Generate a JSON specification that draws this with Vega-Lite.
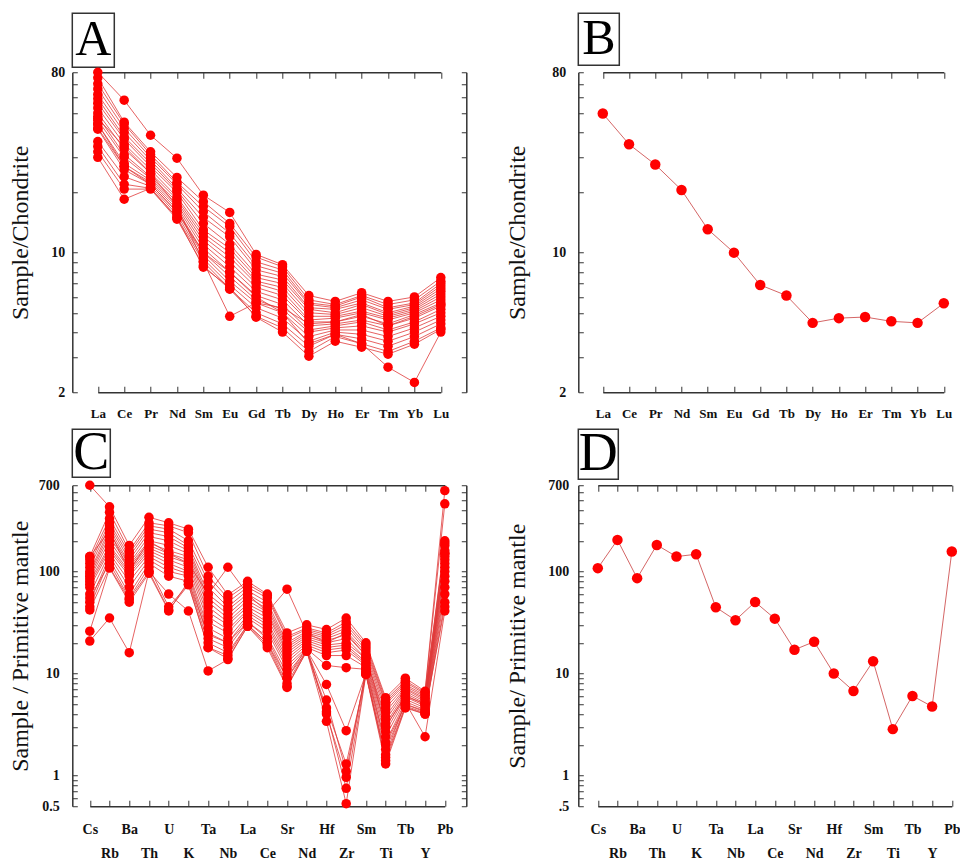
{
"$schema":"https://vega.github.io/schema/vega-lite/v6.json",
"background":"white",
"padding":{"left":8.3,"top":12.25,"right":0,"bottom":0},
"config":{"view":{"stroke":null},"axis":{"grid":false,"domainColor":"#333","domainWidth":1.5,"tickColor":"#333","tickWidth":1,"labelFont":"Liberation Serif","labelFontWeight":"bold","labelColor":"#111","titleFont":"Liberation Serif","titleFontWeight":"normal","titleColor":"#111","labelOverlap":false,"labelFlush":false}},
"datasets":{
"A":[
{"sample":"A1","element":"La","value":80},{"sample":"A1","element":"Ce","value":58},{"sample":"A1","element":"Pr","value":38.7},{"sample":"A1","element":"Nd","value":29.7},{"sample":"A1","element":"Sm","value":19.4},{"sample":"A1","element":"Eu","value":15.9},{"sample":"A1","element":"Gd","value":9.8},{"sample":"A1","element":"Tb","value":8.7},{"sample":"A1","element":"Dy","value":6.1},{"sample":"A1","element":"Ho","value":5.7},{"sample":"A1","element":"Er","value":6.3},{"sample":"A1","element":"Tm","value":5.7},{"sample":"A1","element":"Yb","value":6.0},{"sample":"A1","element":"Lu","value":7.5},
{"sample":"A2","element":"La","value":75},{"sample":"A2","element":"Ce","value":45},{"sample":"A2","element":"Pr","value":32},{"sample":"A2","element":"Nd","value":23.8},{"sample":"A2","element":"Sm","value":18},{"sample":"A2","element":"Eu","value":14},{"sample":"A2","element":"Gd","value":9.5},{"sample":"A2","element":"Tb","value":8.5},{"sample":"A2","element":"Dy","value":5.8},{"sample":"A2","element":"Ho","value":5.5},{"sample":"A2","element":"Er","value":6.1},{"sample":"A2","element":"Tm","value":5.5},{"sample":"A2","element":"Yb","value":5.8},{"sample":"A2","element":"Lu","value":7.2},
{"sample":"A3","element":"La","value":70},{"sample":"A3","element":"Ce","value":44},{"sample":"A3","element":"Pr","value":31},{"sample":"A3","element":"Nd","value":22.5},{"sample":"A3","element":"Sm","value":17},{"sample":"A3","element":"Eu","value":13.5},{"sample":"A3","element":"Gd","value":9.0},{"sample":"A3","element":"Tb","value":8.2},{"sample":"A3","element":"Dy","value":5.6},{"sample":"A3","element":"Ho","value":5.4},{"sample":"A3","element":"Er","value":6.0},{"sample":"A3","element":"Tm","value":5.3},{"sample":"A3","element":"Yb","value":5.6},{"sample":"A3","element":"Lu","value":7.0},
{"sample":"A4","element":"La","value":66},{"sample":"A4","element":"Ce","value":42},{"sample":"A4","element":"Pr","value":30},{"sample":"A4","element":"Nd","value":22},{"sample":"A4","element":"Sm","value":16},{"sample":"A4","element":"Eu","value":12.5},{"sample":"A4","element":"Gd","value":8.6},{"sample":"A4","element":"Tb","value":7.9},{"sample":"A4","element":"Dy","value":5.5},{"sample":"A4","element":"Ho","value":5.3},{"sample":"A4","element":"Er","value":5.8},{"sample":"A4","element":"Tm","value":5.2},{"sample":"A4","element":"Yb","value":5.5},{"sample":"A4","element":"Lu","value":6.8},
{"sample":"A5","element":"La","value":62},{"sample":"A5","element":"Ce","value":40},{"sample":"A5","element":"Pr","value":29},{"sample":"A5","element":"Nd","value":21},{"sample":"A5","element":"Sm","value":15},{"sample":"A5","element":"Eu","value":12},{"sample":"A5","element":"Gd","value":8.2},{"sample":"A5","element":"Tb","value":7.6},{"sample":"A5","element":"Dy","value":5.3},{"sample":"A5","element":"Ho","value":5.2},{"sample":"A5","element":"Er","value":5.6},{"sample":"A5","element":"Tm","value":5.0},{"sample":"A5","element":"Yb","value":5.4},{"sample":"A5","element":"Lu","value":6.6},
{"sample":"A6","element":"La","value":59},{"sample":"A6","element":"Ce","value":38},{"sample":"A6","element":"Pr","value":28},{"sample":"A6","element":"Nd","value":20.5},{"sample":"A6","element":"Sm","value":14},{"sample":"A6","element":"Eu","value":11},{"sample":"A6","element":"Gd","value":7.8},{"sample":"A6","element":"Tb","value":7.3},{"sample":"A6","element":"Dy","value":5.2},{"sample":"A6","element":"Ho","value":5.0},{"sample":"A6","element":"Er","value":5.5},{"sample":"A6","element":"Tm","value":4.9},{"sample":"A6","element":"Yb","value":5.3},{"sample":"A6","element":"Lu","value":6.4},
{"sample":"A7","element":"La","value":56},{"sample":"A7","element":"Ce","value":37},{"sample":"A7","element":"Pr","value":27},{"sample":"A7","element":"Nd","value":20},{"sample":"A7","element":"Sm","value":13},{"sample":"A7","element":"Eu","value":10.5},{"sample":"A7","element":"Gd","value":7.5},{"sample":"A7","element":"Tb","value":7.0},{"sample":"A7","element":"Dy","value":5.0},{"sample":"A7","element":"Ho","value":4.9},{"sample":"A7","element":"Er","value":5.3},{"sample":"A7","element":"Tm","value":4.8},{"sample":"A7","element":"Yb","value":5.2},{"sample":"A7","element":"Lu","value":6.2},
{"sample":"A8","element":"La","value":53},{"sample":"A8","element":"Ce","value":35},{"sample":"A8","element":"Pr","value":26},{"sample":"A8","element":"Nd","value":19},{"sample":"A8","element":"Sm","value":12.5},{"sample":"A8","element":"Eu","value":10},{"sample":"A8","element":"Gd","value":7.2},{"sample":"A8","element":"Tb","value":6.7},{"sample":"A8","element":"Dy","value":4.8},{"sample":"A8","element":"Ho","value":4.8},{"sample":"A8","element":"Er","value":5.1},{"sample":"A8","element":"Tm","value":4.7},{"sample":"A8","element":"Yb","value":5.1},{"sample":"A8","element":"Lu","value":6.0},
{"sample":"A9","element":"La","value":50},{"sample":"A9","element":"Ce","value":33},{"sample":"A9","element":"Pr","value":25},{"sample":"A9","element":"Nd","value":18.5},{"sample":"A9","element":"Sm","value":12},{"sample":"A9","element":"Eu","value":9.5},{"sample":"A9","element":"Gd","value":7.0},{"sample":"A9","element":"Tb","value":6.4},{"sample":"A9","element":"Dy","value":4.6},{"sample":"A9","element":"Ho","value":4.7},{"sample":"A9","element":"Er","value":5.0},{"sample":"A9","element":"Tm","value":4.6},{"sample":"A9","element":"Yb","value":5.0},{"sample":"A9","element":"Lu","value":5.8},
{"sample":"A10","element":"La","value":48},{"sample":"A10","element":"Ce","value":31},{"sample":"A10","element":"Pr","value":24},{"sample":"A10","element":"Nd","value":18},{"sample":"A10","element":"Sm","value":11.5},{"sample":"A10","element":"Eu","value":9},{"sample":"A10","element":"Gd","value":6.7},{"sample":"A10","element":"Tb","value":6.1},{"sample":"A10","element":"Dy","value":4.5},{"sample":"A10","element":"Ho","value":4.5},{"sample":"A10","element":"Er","value":4.8},{"sample":"A10","element":"Tm","value":4.4},{"sample":"A10","element":"Yb","value":4.9},{"sample":"A10","element":"Lu","value":5.6},
{"sample":"A11","element":"La","value":46},{"sample":"A11","element":"Ce","value":30},{"sample":"A11","element":"Pr","value":23.5},{"sample":"A11","element":"Nd","value":17.5},{"sample":"A11","element":"Sm","value":11},{"sample":"A11","element":"Eu","value":8.5},{"sample":"A11","element":"Gd","value":6.4},{"sample":"A11","element":"Tb","value":5.8},{"sample":"A11","element":"Dy","value":4.3},{"sample":"A11","element":"Ho","value":4.4},{"sample":"A11","element":"Er","value":4.6},{"sample":"A11","element":"Tm","value":4.3},{"sample":"A11","element":"Yb","value":4.7},{"sample":"A11","element":"Lu","value":5.4},
{"sample":"A12","element":"La","value":44},{"sample":"A12","element":"Ce","value":28},{"sample":"A12","element":"Pr","value":23},{"sample":"A12","element":"Nd","value":17},{"sample":"A12","element":"Sm","value":10.5},{"sample":"A12","element":"Eu","value":8},{"sample":"A12","element":"Gd","value":6.1},{"sample":"A12","element":"Tb","value":5.5},{"sample":"A12","element":"Dy","value":4.1},{"sample":"A12","element":"Ho","value":4.3},{"sample":"A12","element":"Er","value":4.5},{"sample":"A12","element":"Tm","value":4.1},{"sample":"A12","element":"Yb","value":4.5},{"sample":"A12","element":"Lu","value":5.2},
{"sample":"A13","element":"La","value":42},{"sample":"A13","element":"Ce","value":27},{"sample":"A13","element":"Pr","value":22.5},{"sample":"A13","element":"Nd","value":16.5},{"sample":"A13","element":"Sm","value":10},{"sample":"A13","element":"Eu","value":7.6},{"sample":"A13","element":"Gd","value":5.8},{"sample":"A13","element":"Tb","value":5.2},{"sample":"A13","element":"Dy","value":4.0},{"sample":"A13","element":"Ho","value":4.2},{"sample":"A13","element":"Er","value":4.3},{"sample":"A13","element":"Tm","value":4.0},{"sample":"A13","element":"Yb","value":4.4},{"sample":"A13","element":"Lu","value":5.0},
{"sample":"A14","element":"La","value":41.5},{"sample":"A14","element":"Ce","value":26},{"sample":"A14","element":"Pr","value":22},{"sample":"A14","element":"Nd","value":16},{"sample":"A14","element":"Sm","value":9.7},{"sample":"A14","element":"Eu","value":7.2},{"sample":"A14","element":"Gd","value":5.6},{"sample":"A14","element":"Tb","value":5.0},{"sample":"A14","element":"Dy","value":3.8},{"sample":"A14","element":"Ho","value":4.1},{"sample":"A14","element":"Er","value":4.1},{"sample":"A14","element":"Tm","value":3.8},{"sample":"A14","element":"Yb","value":4.2},{"sample":"A14","element":"Lu","value":4.8},
{"sample":"A15","element":"La","value":36},{"sample":"A15","element":"Ce","value":24},{"sample":"A15","element":"Pr","value":21.5},{"sample":"A15","element":"Nd","value":15.5},{"sample":"A15","element":"Sm","value":9.3},{"sample":"A15","element":"Eu","value":6.9},{"sample":"A15","element":"Gd","value":5.3},{"sample":"A15","element":"Tb","value":4.7},{"sample":"A15","element":"Dy","value":3.6},{"sample":"A15","element":"Ho","value":4.0},{"sample":"A15","element":"Er","value":3.9},{"sample":"A15","element":"Tm","value":3.6},{"sample":"A15","element":"Yb","value":4.0},{"sample":"A15","element":"Lu","value":4.6},
{"sample":"A16","element":"La","value":34},{"sample":"A16","element":"Ce","value":22},{"sample":"A16","element":"Pr","value":21},{"sample":"A16","element":"Nd","value":15},{"sample":"A16","element":"Sm","value":9},{"sample":"A16","element":"Eu","value":6.6},{"sample":"A16","element":"Gd","value":5.0},{"sample":"A16","element":"Tb","value":4.4},{"sample":"A16","element":"Dy","value":3.4},{"sample":"A16","element":"Ho","value":3.9},{"sample":"A16","element":"Er","value":3.7},{"sample":"A16","element":"Tm","value":3.4},{"sample":"A16","element":"Yb","value":3.8},{"sample":"A16","element":"Lu","value":4.4},
{"sample":"A17","element":"La","value":32},{"sample":"A17","element":"Ce","value":20.8},{"sample":"A17","element":"Pr","value":20.8},{"sample":"A17","element":"Nd","value":14.7},{"sample":"A17","element":"Sm","value":8.6},{"sample":"A17","element":"Eu","value":6.56},{"sample":"A17","element":"Gd","value":4.8},{"sample":"A17","element":"Tb","value":4.2},{"sample":"A17","element":"Dy","value":3.2},{"sample":"A17","element":"Ho","value":3.8},{"sample":"A17","element":"Er","value":3.5},{"sample":"A17","element":"Tm","value":3.2},{"sample":"A17","element":"Yb","value":3.6},{"sample":"A17","element":"Lu","value":4.2},
{"sample":"A18","element":"La","value":30},{"sample":"A18","element":"Ce","value":18.5},{"sample":"A18","element":"Pr","value":21},{"sample":"A18","element":"Nd","value":15},{"sample":"A18","element":"Sm","value":8.45},{"sample":"A18","element":"Eu","value":6.7},{"sample":"A18","element":"Gd","value":4.75},{"sample":"A18","element":"Tb","value":4.0},{"sample":"A18","element":"Dy","value":3.03},{"sample":"A18","element":"Ho","value":3.6},{"sample":"A18","element":"Er","value":3.36},{"sample":"A18","element":"Tm","value":3.1},{"sample":"A18","element":"Yb","value":3.48},{"sample":"A18","element":"Lu","value":4.13},
{"sample":"A19","element":"La","value":47},{"sample":"A19","element":"Ce","value":34},{"sample":"A19","element":"Pr","value":25},{"sample":"A19","element":"Nd","value":17},{"sample":"A19","element":"Sm","value":9.0},{"sample":"A19","element":"Eu","value":4.8},{"sample":"A19","element":"Gd","value":5.6},{"sample":"A19","element":"Tb","value":5.3},{"sample":"A19","element":"Dy","value":4.4},{"sample":"A19","element":"Ho","value":4.5},{"sample":"A19","element":"Er","value":4.9},{"sample":"A19","element":"Tm","value":4.3},{"sample":"A19","element":"Yb","value":4.8},{"sample":"A19","element":"Lu","value":5.5},
{"sample":"A20","element":"La","value":44},{"sample":"A20","element":"Ce","value":27},{"sample":"A20","element":"Pr","value":22},{"sample":"A20","element":"Nd","value":16},{"sample":"A20","element":"Sm","value":10},{"sample":"A20","element":"Eu","value":8},{"sample":"A20","element":"Gd","value":6},{"sample":"A20","element":"Tb","value":5},{"sample":"A20","element":"Dy","value":3.5},{"sample":"A20","element":"Ho","value":3.9},{"sample":"A20","element":"Er","value":3.5},{"sample":"A20","element":"Tm","value":2.67},{"sample":"A20","element":"Yb","value":2.24},{"sample":"A20","element":"Lu","value":4.0}
],
"B":[
{"sample":"B1","element":"La","value":49.7},{"sample":"B1","element":"Ce","value":34.9},{"sample":"B1","element":"Pr","value":27.6},{"sample":"B1","element":"Nd","value":20.6},{"sample":"B1","element":"Sm","value":13.1},{"sample":"B1","element":"Eu","value":10.0},{"sample":"B1","element":"Gd","value":6.89},{"sample":"B1","element":"Tb","value":6.1},{"sample":"B1","element":"Dy","value":4.45},{"sample":"B1","element":"Ho","value":4.7},{"sample":"B1","element":"Er","value":4.76},{"sample":"B1","element":"Tm","value":4.53},{"sample":"B1","element":"Yb","value":4.45},{"sample":"B1","element":"Lu","value":5.58}
],
"C":[
{"sample":"C1","element":"Cs","value":700},{"sample":"C1","element":"Rb","value":430},{"sample":"C1","element":"Ba","value":180},{"sample":"C1","element":"Th","value":340},{"sample":"C1","element":"U","value":300},{"sample":"C1","element":"K","value":260},{"sample":"C1","element":"Ta","value":110},{"sample":"C1","element":"Nb","value":59},{"sample":"C1","element":"La","value":80},{"sample":"C1","element":"Ce","value":60},{"sample":"C1","element":"Sr","value":25},{"sample":"C1","element":"Nd","value":30},{"sample":"C1","element":"Hf","value":27},{"sample":"C1","element":"Zr","value":35},{"sample":"C1","element":"Sm","value":20},{"sample":"C1","element":"Ti","value":5.8},{"sample":"C1","element":"Tb","value":9},{"sample":"C1","element":"Y","value":6.7},{"sample":"C1","element":"Pb","value":620},
{"sample":"C2","element":"Cs","value":140},{"sample":"C2","element":"Rb","value":380},{"sample":"C2","element":"Ba","value":160},{"sample":"C2","element":"Th","value":300},{"sample":"C2","element":"U","value":280},{"sample":"C2","element":"K","value":240},{"sample":"C2","element":"Ta","value":90},{"sample":"C2","element":"Nb","value":55},{"sample":"C2","element":"La","value":75},{"sample":"C2","element":"Ce","value":58},{"sample":"C2","element":"Sr","value":23},{"sample":"C2","element":"Nd","value":28},{"sample":"C2","element":"Hf","value":25},{"sample":"C2","element":"Zr","value":32},{"sample":"C2","element":"Sm","value":19},{"sample":"C2","element":"Ti","value":5.5},{"sample":"C2","element":"Tb","value":8.5},{"sample":"C2","element":"Y","value":6.5},{"sample":"C2","element":"Pb","value":460},
{"sample":"C3","element":"Cs","value":130},{"sample":"C3","element":"Rb","value":330},{"sample":"C3","element":"Ba","value":150},{"sample":"C3","element":"Th","value":280},{"sample":"C3","element":"U","value":260},{"sample":"C3","element":"K","value":200},{"sample":"C3","element":"Ta","value":80},{"sample":"C3","element":"Nb","value":50},{"sample":"C3","element":"La","value":70},{"sample":"C3","element":"Ce","value":55},{"sample":"C3","element":"Sr","value":22},{"sample":"C3","element":"Nd","value":27},{"sample":"C3","element":"Hf","value":24},{"sample":"C3","element":"Zr","value":30},{"sample":"C3","element":"Sm","value":18},{"sample":"C3","element":"Ti","value":5.2},{"sample":"C3","element":"Tb","value":8.2},{"sample":"C3","element":"Y","value":6.3},{"sample":"C3","element":"Pb","value":200},
{"sample":"C4","element":"Cs","value":120},{"sample":"C4","element":"Rb","value":300},{"sample":"C4","element":"Ba","value":140},{"sample":"C4","element":"Th","value":260},{"sample":"C4","element":"U","value":240},{"sample":"C4","element":"K","value":180},{"sample":"C4","element":"Ta","value":70},{"sample":"C4","element":"Nb","value":45},{"sample":"C4","element":"La","value":65},{"sample":"C4","element":"Ce","value":50},{"sample":"C4","element":"Sr","value":20},{"sample":"C4","element":"Nd","value":26},{"sample":"C4","element":"Hf","value":23},{"sample":"C4","element":"Zr","value":28},{"sample":"C4","element":"Sm","value":17},{"sample":"C4","element":"Ti","value":5.0},{"sample":"C4","element":"Tb","value":7.8},{"sample":"C4","element":"Y","value":6.1},{"sample":"C4","element":"Pb","value":190},
{"sample":"C5","element":"Cs","value":110},{"sample":"C5","element":"Rb","value":280},{"sample":"C5","element":"Ba","value":130},{"sample":"C5","element":"Th","value":240},{"sample":"C5","element":"U","value":220},{"sample":"C5","element":"K","value":170},{"sample":"C5","element":"Ta","value":60},{"sample":"C5","element":"Nb","value":42},{"sample":"C5","element":"La","value":60},{"sample":"C5","element":"Ce","value":46},{"sample":"C5","element":"Sr","value":19},{"sample":"C5","element":"Nd","value":25},{"sample":"C5","element":"Hf","value":22},{"sample":"C5","element":"Zr","value":26},{"sample":"C5","element":"Sm","value":16},{"sample":"C5","element":"Ti","value":4.6},{"sample":"C5","element":"Tb","value":7.5},{"sample":"C5","element":"Y","value":5.9},{"sample":"C5","element":"Pb","value":180},
{"sample":"C6","element":"Cs","value":100},{"sample":"C6","element":"Rb","value":260},{"sample":"C6","element":"Ba","value":120},{"sample":"C6","element":"Th","value":220},{"sample":"C6","element":"U","value":200},{"sample":"C6","element":"K","value":160},{"sample":"C6","element":"Ta","value":55},{"sample":"C6","element":"Nb","value":38},{"sample":"C6","element":"La","value":56},{"sample":"C6","element":"Ce","value":43},{"sample":"C6","element":"Sr","value":18},{"sample":"C6","element":"Nd","value":24},{"sample":"C6","element":"Hf","value":21},{"sample":"C6","element":"Zr","value":24},{"sample":"C6","element":"Sm","value":15},{"sample":"C6","element":"Ti","value":4.2},{"sample":"C6","element":"Tb","value":7.2},{"sample":"C6","element":"Y","value":5.7},{"sample":"C6","element":"Pb","value":160},
{"sample":"C7","element":"Cs","value":95},{"sample":"C7","element":"Rb","value":240},{"sample":"C7","element":"Ba","value":115},{"sample":"C7","element":"Th","value":200},{"sample":"C7","element":"U","value":180},{"sample":"C7","element":"K","value":150},{"sample":"C7","element":"Ta","value":50},{"sample":"C7","element":"Nb","value":35},{"sample":"C7","element":"La","value":52},{"sample":"C7","element":"Ce","value":40},{"sample":"C7","element":"Sr","value":17},{"sample":"C7","element":"Nd","value":23},{"sample":"C7","element":"Hf","value":20},{"sample":"C7","element":"Zr","value":22},{"sample":"C7","element":"Sm","value":14},{"sample":"C7","element":"Ti","value":3.8},{"sample":"C7","element":"Tb","value":7.0},{"sample":"C7","element":"Y","value":5.5},{"sample":"C7","element":"Pb","value":150},
{"sample":"C8","element":"Cs","value":90},{"sample":"C8","element":"Rb","value":220},{"sample":"C8","element":"Ba","value":110},{"sample":"C8","element":"Th","value":190},{"sample":"C8","element":"U","value":160},{"sample":"C8","element":"K","value":140},{"sample":"C8","element":"Ta","value":45},{"sample":"C8","element":"Nb","value":32},{"sample":"C8","element":"La","value":48},{"sample":"C8","element":"Ce","value":38},{"sample":"C8","element":"Sr","value":16},{"sample":"C8","element":"Nd","value":22},{"sample":"C8","element":"Hf","value":19},{"sample":"C8","element":"Zr","value":20},{"sample":"C8","element":"Sm","value":14},{"sample":"C8","element":"Ti","value":3.5},{"sample":"C8","element":"Tb","value":6.7},{"sample":"C8","element":"Y","value":5.3},{"sample":"C8","element":"Pb","value":140},
{"sample":"C9","element":"Cs","value":85},{"sample":"C9","element":"Rb","value":200},{"sample":"C9","element":"Ba","value":105},{"sample":"C9","element":"Th","value":180},{"sample":"C9","element":"U","value":150},{"sample":"C9","element":"K","value":130},{"sample":"C9","element":"Ta","value":40},{"sample":"C9","element":"Nb","value":30},{"sample":"C9","element":"La","value":45},{"sample":"C9","element":"Ce","value":35},{"sample":"C9","element":"Sr","value":15},{"sample":"C9","element":"Nd","value":21},{"sample":"C9","element":"Hf","value":18},{"sample":"C9","element":"Zr","value":19},{"sample":"C9","element":"Sm","value":13},{"sample":"C9","element":"Ti","value":3.2},{"sample":"C9","element":"Tb","value":6.4},{"sample":"C9","element":"Y","value":5.1},{"sample":"C9","element":"Pb","value":130},
{"sample":"C10","element":"Cs","value":80},{"sample":"C10","element":"Rb","value":180},{"sample":"C10","element":"Ba","value":100},{"sample":"C10","element":"Th","value":170},{"sample":"C10","element":"U","value":140},{"sample":"C10","element":"K","value":120},{"sample":"C10","element":"Ta","value":36},{"sample":"C10","element":"Nb","value":27},{"sample":"C10","element":"La","value":42},{"sample":"C10","element":"Ce","value":32},{"sample":"C10","element":"Sr","value":14},{"sample":"C10","element":"Nd","value":20},{"sample":"C10","element":"Hf","value":17},{"sample":"C10","element":"Zr","value":18},{"sample":"C10","element":"Sm","value":12.5},{"sample":"C10","element":"Ti","value":3.0},{"sample":"C10","element":"Tb","value":6.1},{"sample":"C10","element":"Y","value":5.0},{"sample":"C10","element":"Pb","value":120},
{"sample":"C11","element":"Cs","value":75},{"sample":"C11","element":"Rb","value":170},{"sample":"C11","element":"Ba","value":95},{"sample":"C11","element":"Th","value":160},{"sample":"C11","element":"U","value":130},{"sample":"C11","element":"K","value":110},{"sample":"C11","element":"Ta","value":32},{"sample":"C11","element":"Nb","value":25},{"sample":"C11","element":"La","value":40},{"sample":"C11","element":"Ce","value":30},{"sample":"C11","element":"Sr","value":13},{"sample":"C11","element":"Nd","value":19},{"sample":"C11","element":"Hf","value":16},{"sample":"C11","element":"Zr","value":17},{"sample":"C11","element":"Sm","value":12},{"sample":"C11","element":"Ti","value":2.7},{"sample":"C11","element":"Tb","value":5.9},{"sample":"C11","element":"Y","value":4.8},{"sample":"C11","element":"Pb","value":110},
{"sample":"C12","element":"Cs","value":70},{"sample":"C12","element":"Rb","value":160},{"sample":"C12","element":"Ba","value":90},{"sample":"C12","element":"Th","value":150},{"sample":"C12","element":"U","value":120},{"sample":"C12","element":"K","value":100},{"sample":"C12","element":"Ta","value":28},{"sample":"C12","element":"Nb","value":22},{"sample":"C12","element":"La","value":37},{"sample":"C12","element":"Ce","value":28},{"sample":"C12","element":"Sr","value":12},{"sample":"C12","element":"Nd","value":18},{"sample":"C12","element":"Hf","value":15},{"sample":"C12","element":"Zr","value":15},{"sample":"C12","element":"Sm","value":11.5},{"sample":"C12","element":"Ti","value":2.4},{"sample":"C12","element":"Tb","value":5.6},{"sample":"C12","element":"Y","value":4.6},{"sample":"C12","element":"Pb","value":100},
{"sample":"C13","element":"Cs","value":60},{"sample":"C13","element":"Rb","value":150},{"sample":"C13","element":"Ba","value":80},{"sample":"C13","element":"Th","value":140},{"sample":"C13","element":"U","value":110},{"sample":"C13","element":"K","value":95},{"sample":"C13","element":"Ta","value":25},{"sample":"C13","element":"Nb","value":20},{"sample":"C13","element":"La","value":35},{"sample":"C13","element":"Ce","value":26},{"sample":"C13","element":"Sr","value":11},{"sample":"C13","element":"Nd","value":17.5},{"sample":"C13","element":"Hf","value":12},{"sample":"C13","element":"Zr","value":11.4},{"sample":"C13","element":"Sm","value":11},{"sample":"C13","element":"Ti","value":2.1},{"sample":"C13","element":"Tb","value":5.3},{"sample":"C13","element":"Y","value":4.4},{"sample":"C13","element":"Pb","value":90},
{"sample":"C14","element":"Cs","value":50},{"sample":"C14","element":"Rb","value":140},{"sample":"C14","element":"Ba","value":70},{"sample":"C14","element":"Th","value":130},{"sample":"C14","element":"U","value":100},{"sample":"C14","element":"K","value":90},{"sample":"C14","element":"Ta","value":22},{"sample":"C14","element":"Nb","value":18},{"sample":"C14","element":"La","value":32},{"sample":"C14","element":"Ce","value":23},{"sample":"C14","element":"Sr","value":10},{"sample":"C14","element":"Nd","value":17},{"sample":"C14","element":"Hf","value":5.5},{"sample":"C14","element":"Zr","value":1.1},{"sample":"C14","element":"Sm","value":10.5},{"sample":"C14","element":"Ti","value":1.8},{"sample":"C14","element":"Tb","value":5.0},{"sample":"C14","element":"Y","value":4.2},{"sample":"C14","element":"Pb","value":80},
{"sample":"C15","element":"Cs","value":45},{"sample":"C15","element":"Rb","value":130},{"sample":"C15","element":"Ba","value":60},{"sample":"C15","element":"Th","value":120},{"sample":"C15","element":"U","value":90},{"sample":"C15","element":"K","value":80},{"sample":"C15","element":"Ta","value":20},{"sample":"C15","element":"Nb","value":16},{"sample":"C15","element":"La","value":30},{"sample":"C15","element":"Ce","value":20},{"sample":"C15","element":"Sr","value":9},{"sample":"C15","element":"Nd","value":16.6},{"sample":"C15","element":"Hf","value":4.2},{"sample":"C15","element":"Zr","value":0.75},{"sample":"C15","element":"Sm","value":10},{"sample":"C15","element":"Ti","value":1.5},{"sample":"C15","element":"Tb","value":4.8},{"sample":"C15","element":"Y","value":4.1},{"sample":"C15","element":"Pb","value":70},
{"sample":"C16","element":"Cs","value":55},{"sample":"C16","element":"Rb","value":120},{"sample":"C16","element":"Ba","value":55},{"sample":"C16","element":"Th","value":110},{"sample":"C16","element":"U","value":45},{"sample":"C16","element":"K","value":75},{"sample":"C16","element":"Ta","value":18},{"sample":"C16","element":"Nb","value":15},{"sample":"C16","element":"La","value":30},{"sample":"C16","element":"Ce","value":20},{"sample":"C16","element":"Sr","value":8},{"sample":"C16","element":"Nd","value":17},{"sample":"C16","element":"Hf","value":7.8},{"sample":"C16","element":"Zr","value":2.75},{"sample":"C16","element":"Sm","value":10},{"sample":"C16","element":"Ti","value":1.4},{"sample":"C16","element":"Tb","value":4.7},{"sample":"C16","element":"Y","value":4.0},{"sample":"C16","element":"Pb","value":60},
{"sample":"C17","element":"Cs","value":42},{"sample":"C17","element":"Rb","value":110},{"sample":"C17","element":"Ba","value":53},{"sample":"C17","element":"Th","value":100},{"sample":"C17","element":"U","value":42},{"sample":"C17","element":"K","value":74},{"sample":"C17","element":"Ta","value":17.9},{"sample":"C17","element":"Nb","value":14},{"sample":"C17","element":"La","value":29},{"sample":"C17","element":"Ce","value":19},{"sample":"C17","element":"Sr","value":7.5},{"sample":"C17","element":"Nd","value":16.6},{"sample":"C17","element":"Hf","value":4.6},{"sample":"C17","element":"Zr","value":1.3},{"sample":"C17","element":"Sm","value":9.8},{"sample":"C17","element":"Ti","value":1.3},{"sample":"C17","element":"Tb","value":4.6},{"sample":"C17","element":"Y","value":4.0},{"sample":"C17","element":"Pb","value":50},
{"sample":"C18","element":"Cs","value":26},{"sample":"C18","element":"Rb","value":108},{"sample":"C18","element":"Ba","value":50},{"sample":"C18","element":"Th","value":96},{"sample":"C18","element":"U","value":41},{"sample":"C18","element":"K","value":80},{"sample":"C18","element":"Ta","value":24},{"sample":"C18","element":"Nb","value":20},{"sample":"C18","element":"La","value":32},{"sample":"C18","element":"Ce","value":22},{"sample":"C18","element":"Sr","value":9},{"sample":"C18","element":"Nd","value":18},{"sample":"C18","element":"Hf","value":4.0},{"sample":"C18","element":"Zr","value":0.96},{"sample":"C18","element":"Sm","value":11},{"sample":"C18","element":"Ti","value":2.0},{"sample":"C18","element":"Tb","value":5.0},{"sample":"C18","element":"Y","value":4.3},{"sample":"C18","element":"Pb","value":45},
{"sample":"C19","element":"Cs","value":20.8},{"sample":"C19","element":"Rb","value":35},{"sample":"C19","element":"Ba","value":16},{"sample":"C19","element":"Th","value":100},{"sample":"C19","element":"U","value":60},{"sample":"C19","element":"K","value":41},{"sample":"C19","element":"Ta","value":10.6},{"sample":"C19","element":"Nb","value":13.7},{"sample":"C19","element":"La","value":29},{"sample":"C19","element":"Ce","value":17.9},{"sample":"C19","element":"Sr","value":7.3},{"sample":"C19","element":"Nd","value":16.6},{"sample":"C19","element":"Hf","value":3.4},{"sample":"C19","element":"Zr","value":0.53},{"sample":"C19","element":"Sm","value":9.8},{"sample":"C19","element":"Ti","value":1.6},{"sample":"C19","element":"Tb","value":5.2},{"sample":"C19","element":"Y","value":2.4},{"sample":"C19","element":"Pb","value":41},
{"sample":"C20","element":"Cs","value":140},{"sample":"C20","element":"Rb","value":250},{"sample":"C20","element":"Ba","value":100},{"sample":"C20","element":"Th","value":200},{"sample":"C20","element":"U","value":150},{"sample":"C20","element":"K","value":120},{"sample":"C20","element":"Ta","value":60},{"sample":"C20","element":"Nb","value":110},{"sample":"C20","element":"La","value":60},{"sample":"C20","element":"Ce","value":40},{"sample":"C20","element":"Sr","value":67},{"sample":"C20","element":"Nd","value":25},{"sample":"C20","element":"Hf","value":20},{"sample":"C20","element":"Zr","value":25},{"sample":"C20","element":"Sm","value":15},{"sample":"C20","element":"Ti","value":3.0},{"sample":"C20","element":"Tb","value":6.0},{"sample":"C20","element":"Y","value":5.0},{"sample":"C20","element":"Pb","value":150}
],
"D":[
{"sample":"D1","element":"Cs","value":107.8},{"sample":"D1","element":"Rb","value":204},{"sample":"D1","element":"Ba","value":86},{"sample":"D1","element":"Th","value":182},{"sample":"D1","element":"U","value":140},{"sample":"D1","element":"K","value":147.5},{"sample":"D1","element":"Ta","value":44.6},{"sample":"D1","element":"Nb","value":33.3},{"sample":"D1","element":"La","value":50.2},{"sample":"D1","element":"Ce","value":34.5},{"sample":"D1","element":"Sr","value":17.1},{"sample":"D1","element":"Nd","value":20.5},{"sample":"D1","element":"Hf","value":10},{"sample":"D1","element":"Zr","value":6.75},{"sample":"D1","element":"Sm","value":13.2},{"sample":"D1","element":"Ti","value":2.85},{"sample":"D1","element":"Tb","value":6.03},{"sample":"D1","element":"Y","value":4.75},{"sample":"D1","element":"Pb","value":156.7}
]
},
"spacing":8,
"vconcat":[
{"columns":2,"bounds":"flush","spacing":{"row":5,"column":112},"concat":[
{"width":42,"height":54,"view":{"stroke":"#333","strokeWidth":1.5},"data":{"values":[{"letter":"A"}]},"mark":{"type":"text","font":"Liberation Serif","fontSize":50,"align":"center","baseline":"middle","color":"#000","clip":true},"encoding":{"text":{"field":"letter"}}},
{"width":41,"height":52,"view":{"stroke":"#333","strokeWidth":1.5},"data":{"values":[{"letter":"B"}]},"mark":{"type":"text","font":"Liberation Serif","fontSize":50,"align":"center","baseline":"middle","color":"#000","clip":true},"encoding":{"text":{"field":"letter"}}},
{"width":394,"height":320,"data":{"name":"A"},
"layer":[
{"mark":{"type":"line","color":"#e03a3a","strokeWidth":1,"opacity":0.8},
"encoding":{"x":{"field":"element","type":"ordinal","sort":["La","Ce","Pr","Nd","Sm","Eu","Gd","Tb","Dy","Ho","Er","Tm","Yb","Lu"],"scale":{"type":"point","range":[25.5,368.5],"padding":0},"axis":{"orient":"bottom","title":null,"labelAngle":0,"labelFontSize":13,"tickSize":-6,"labelPadding":21}},
"y":{"field":"value","type":"quantitative","scale":{"type":"log","domain":[2,80],"nice":false},"axis":{"orient":"left","title":"Sample/Chondrite","titleFontSize":24,"titleX":-40,"values":[2,3,4,5,6,7,8,9,10,20,30,40,50,60,70,80],"labelExpr":"indexof([2,10,80], datum.value) >= 0 ? '' + datum.value : ''","labelFontSize":14,"tickSize":-5,"labelPadding":12.5}},
"detail":{"field":"sample"}}},
{"mark":{"type":"circle","color":"#ff0000","size":90,"opacity":1},
"encoding":{"x":{"field":"element","type":"ordinal","sort":["La","Ce","Pr","Nd","Sm","Eu","Gd","Tb","Dy","Ho","Er","Tm","Yb","Lu"],"axis":{"orient":"top","title":null,"labels":false,"tickSize":-6}},
"y":{"field":"value","type":"quantitative","axis":{"orient":"right","title":null,"labels":false,"values":[2,3,4,5,6,7,8,9,10,20,30,40,50,60,70,80],"tickSize":-5}}}}
],
"resolve":{"axis":{"x":"independent","y":"independent"}}},
{"width":381,"height":320,"data":{"name":"B"},
"layer":[
{"mark":{"type":"line","color":"#cc4a4a","strokeWidth":1,"opacity":0.85},
"encoding":{"x":{"field":"element","type":"ordinal","sort":["La","Ce","Pr","Nd","Sm","Eu","Gd","Tb","Dy","Ho","Er","Tm","Yb","Lu"],"scale":{"type":"point","range":[24.5,365.5],"padding":0},"axis":{"orient":"bottom","title":null,"labelAngle":0,"labelFontSize":13,"tickSize":-6,"labelPadding":21}},
"y":{"field":"value","type":"quantitative","scale":{"type":"log","domain":[2,80],"nice":false},"axis":{"orient":"left","title":"Sample/Chondrite","titleFontSize":24,"titleX":-49,"values":[2,3,4,5,6,7,8,9,10,20,30,40,50,60,70,80],"labelExpr":"indexof([2,10,80], datum.value) >= 0 ? '' + datum.value : ''","labelFontSize":14,"tickSize":-5,"labelPadding":17.5}},
"detail":{"field":"sample"}}},
{"mark":{"type":"circle","color":"#ff0000","size":110,"opacity":1},
"encoding":{"x":{"field":"element","type":"ordinal","sort":["La","Ce","Pr","Nd","Sm","Eu","Gd","Tb","Dy","Ho","Er","Tm","Yb","Lu"],"axis":{"orient":"top","title":null,"labels":false,"tickSize":-6}},
"y":{"field":"value","type":"quantitative"}}}
],
"resolve":{"axis":{"x":"independent"}}}
]},
{"columns":2,"bounds":"flush","spacing":{"row":6,"column":112},"concat":[
{"width":38,"height":48,"view":{"stroke":"#333","strokeWidth":1.5},"data":{"values":[{"letter":"C"}]},"mark":{"type":"text","font":"Liberation Serif","fontSize":54,"align":"center","baseline":"middle","color":"#000","clip":true},"encoding":{"text":{"field":"letter"}}},
{"width":40,"height":50,"view":{"stroke":"#333","strokeWidth":1.5},"data":{"values":[{"letter":"D"}]},"mark":{"type":"text","font":"Liberation Serif","fontSize":54,"align":"center","baseline":"middle","color":"#000","clip":true},"encoding":{"text":{"field":"letter"}}},
{"width":394,"height":321,"data":{"name":"C"},
"layer":[
{"mark":{"type":"line","color":"#e03a3a","strokeWidth":1,"opacity":0.8},
"encoding":{"x":{"field":"element","type":"ordinal","sort":["Cs","Rb","Ba","Th","U","K","Ta","Nb","La","Ce","Sr","Nd","Hf","Zr","Sm","Ti","Tb","Y","Pb"],"scale":{"type":"point","range":[17.5,372.5],"padding":0},"axis":{"orient":"bottom","title":null,"labelAngle":0,"labelFontSize":14,"tickSize":-6,"labelPadding":{"condition":{"test":"indexof(['Rb','Th','K','Nb','Ce','Nd','Zr','Ti','Y'], datum.value) >= 0","value":46},"value":22}}},
"y":{"field":"value","type":"quantitative","scale":{"type":"log","domain":[0.5,700],"nice":false},"axis":{"orient":"left","title":"Sample / Primitive mantle","titleFontSize":24,"titleX":-40,"values":[0.5,0.6,0.7,0.8,0.9,1,2,3,4,5,6,7,8,9,10,20,30,40,50,60,70,80,90,100,200,300,400,500,600,700],"labelExpr":"datum.value == 0.5 ? '0.5' : (indexof([1,10,100,700], datum.value) >= 0 ? '' + datum.value : '')","labelFontSize":14,"tickSize":-5,"labelPadding":18}},
"detail":{"field":"sample"}}},
{"mark":{"type":"circle","color":"#ff0000","size":90,"opacity":1},
"encoding":{"x":{"field":"element","type":"ordinal","sort":["Cs","Rb","Ba","Th","U","K","Ta","Nb","La","Ce","Sr","Nd","Hf","Zr","Sm","Ti","Tb","Y","Pb"],"axis":{"orient":"top","title":null,"labels":false,"tickSize":-6}},
"y":{"field":"value","type":"quantitative","axis":{"orient":"right","title":null,"labels":false,"values":[0.5,0.6,0.7,0.8,0.9,1,2,3,4,5,6,7,8,9,10,20,30,40,50,60,70,80,90,100,200,300,400,500,600,700],"tickSize":-5}}}}
],
"resolve":{"axis":{"x":"independent","y":"independent"}}},
{"width":381,"height":321,"data":{"name":"D"},
"layer":[
{"mark":{"type":"line","color":"#cc4a4a","strokeWidth":1,"opacity":0.85},
"encoding":{"x":{"field":"element","type":"ordinal","sort":["Cs","Rb","Ba","Th","U","K","Ta","Nb","La","Ce","Sr","Nd","Hf","Zr","Sm","Ti","Tb","Y","Pb"],"scale":{"type":"point","range":[19.5,373.5],"padding":0},"axis":{"orient":"bottom","title":null,"labelAngle":0,"labelFontSize":14,"tickSize":-6,"labelPadding":{"condition":{"test":"indexof(['Rb','Th','K','Nb','Ce','Nd','Zr','Ti','Y'], datum.value) >= 0","value":46},"value":22}}},
"y":{"field":"value","type":"quantitative","scale":{"type":"log","domain":[0.5,700],"nice":false},"axis":{"orient":"left","title":"Sample/ Primitive mantle","titleFontSize":24,"titleX":-49,"values":[0.5,0.6,0.7,0.8,0.9,1,2,3,4,5,6,7,8,9,10,20,30,40,50,60,70,80,90,100,200,300,400,500,600,700],"labelExpr":"datum.value == 0.5 ? '.5' : (indexof([1,10,100,700], datum.value) >= 0 ? '' + datum.value : '')","labelFontSize":14,"tickSize":-5,"labelPadding":14.5}},
"detail":{"field":"sample"}}},
{"mark":{"type":"circle","color":"#ff0000","size":110,"opacity":1},
"encoding":{"x":{"field":"element","type":"ordinal","sort":["Cs","Rb","Ba","Th","U","K","Ta","Nb","La","Ce","Sr","Nd","Hf","Zr","Sm","Ti","Tb","Y","Pb"],"axis":{"orient":"top","title":null,"labels":false,"tickSize":-6}},
"y":{"field":"value","type":"quantitative"}}}
],
"resolve":{"axis":{"x":"independent"}}}
]}
]
}
